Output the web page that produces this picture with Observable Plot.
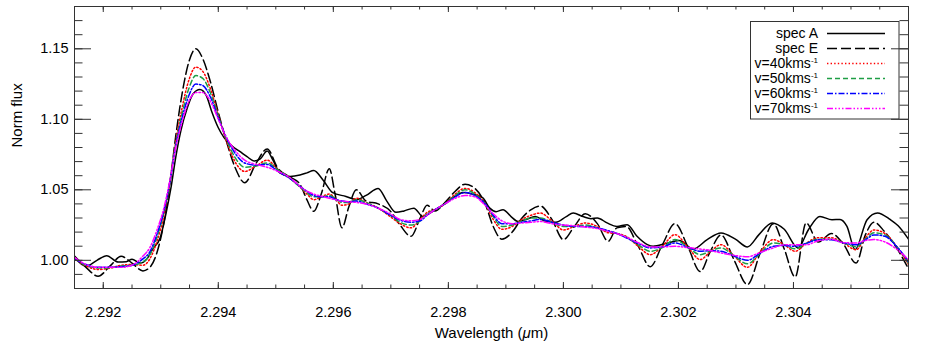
<!DOCTYPE html>
<html><head><meta charset="utf-8">
<script src="https://cdn.jsdelivr.net/npm/d3@7"></script>
<script src="https://cdn.jsdelivr.net/npm/@observablehq/plot@0.6"></script>
<style>
html,body{margin:0;padding:0;background:#fff;}
#chart svg{display:block;}
</style></head>
<body><div id="chart"></div>
<script>
// ---------------- data ----------------
// spec A (solid black)
const wlA = [2.2915, 2.29170, 2.29189, 2.29206, 2.29226, 2.29240, 2.29250, 2.29264, 2.29276, 2.29286,
  2.29299, 2.29309, 2.29318, 2.29326, 2.29335, 2.29346, 2.29356, 2.29368, 2.29379, 2.29389,
  2.29400, 2.29410, 2.29424, 2.29438, 2.29450, 2.29462, 2.29473, 2.29485, 2.29495, 2.29507,
  2.29525, 2.29542, 2.29554, 2.29566, 2.29582, 2.29599, 2.29622, 2.29640, 2.29657, 2.29678,
  2.29693, 2.29709, 2.29723, 2.29740, 2.29756, 2.29768, 2.29786, 2.29806, 2.29826, 2.29841,
  2.29860, 2.29872, 2.29883, 2.29895, 2.29909, 2.29921, 2.29935, 2.29951, 2.29970, 2.29987,
  2.30005, 2.30017, 2.30034, 2.30048, 2.30059, 2.30076, 2.30093, 2.30111, 2.30128, 2.30146,
  2.30156, 2.30179, 2.30201, 2.30226, 2.30250, 2.30274, 2.30299, 2.30320, 2.30340, 2.30363,
  2.30384, 2.30408, 2.30426, 2.30446, 2.30467, 2.30481, 2.30493, 2.30507, 2.30528, 2.30546,
  2.30568, 2.30582, 2.30600];
const fluxA = [1.002, 0.9958, 1.000, 1.0033, 0.9988, 0.999, 1.0008, 0.998, 1.001, 1.008,
  1.016, 1.033, 1.052, 1.073, 1.092, 1.108, 1.118, 1.1212, 1.117, 1.105,
  1.094, 1.087, 1.081, 1.077, 1.0735, 1.0705, 1.072, 1.0775, 1.071, 1.062,
  1.0595, 1.0605, 1.062, 1.0637, 1.057, 1.048, 1.0453, 1.043, 1.046, 1.051,
  1.042, 1.034, 1.035, 1.037, 1.031, 1.0335, 1.038, 1.044, 1.048, 1.047,
  1.0442, 1.037, 1.0345, 1.0359, 1.031, 1.0276, 1.029, 1.031, 1.0276, 1.027,
  1.031, 1.0336, 1.031, 1.0295, 1.030, 1.0265, 1.024, 1.0253, 1.017, 1.0111,
  1.0099, 1.012, 1.014, 1.0081, 1.0147, 1.0194, 1.015, 1.0095, 1.0182, 1.0265,
  1.022, 1.0088, 1.0217, 1.031, 1.0288, 1.029, 1.024, 1.0076, 1.0288, 1.0336,
  1.029, 1.0245, 1.015];

// shared wavelength grid for spec E and the model spectra
const wlGrid = [2.2915, 2.29170, 2.29191, 2.29212, 2.29231, 2.29250, 2.29269, 2.29281, 2.29293, 2.29306,
  2.29316, 2.29326, 2.29337, 2.29349, 2.29361, 2.29373, 2.29386, 2.29400, 2.29413, 2.29429,
  2.29446, 2.29466, 2.29485, 2.29504, 2.29525, 2.29542, 2.29554, 2.29566, 2.29579, 2.29593,
  2.29603, 2.29615, 2.29627, 2.29640, 2.29657, 2.29678, 2.29699, 2.29716, 2.29735, 2.29751,
  2.29763, 2.29777, 2.29794, 2.29812, 2.29829, 2.29846, 2.29864, 2.29878, 2.29893, 2.29911,
  2.29928, 2.29944, 2.29960, 2.29980, 2.30000, 2.30019, 2.30038, 2.30059, 2.30078, 2.30093,
  2.30109, 2.30130, 2.30151, 2.30172, 2.30194, 2.30217, 2.30238, 2.30255, 2.30274, 2.30297,
  2.30320, 2.30342, 2.30365, 2.30384, 2.30403, 2.30422, 2.30443, 2.30466, 2.30486, 2.30509,
  2.30525, 2.30540, 2.30559, 2.30579, 2.30600];
const fluxE = [1.003, 0.995, 0.9887, 0.996, 1.0028, 0.998, 0.9925, 0.995, 1.005, 1.028,
  1.055, 1.088, 1.118, 1.141, 1.150, 1.143, 1.127, 1.105, 1.086, 1.066,
  1.055, 1.069, 1.079, 1.065, 1.059, 1.054, 1.043, 1.0347, 1.047, 1.065,
  1.047, 1.023, 1.038, 1.050, 1.042, 1.040, 1.035, 1.025, 1.017, 1.030,
  1.039, 1.035, 1.041, 1.049, 1.054, 1.051, 1.040, 1.024, 1.015, 1.020,
  1.030, 1.036, 1.0385, 1.029, 1.0147, 1.024, 1.033, 1.026, 1.0135, 1.023,
  1.024, 1.010, 0.9955, 1.011, 1.026, 1.009, 0.992, 1.006, 1.018, 1.000,
  0.9828, 1.005, 1.026, 1.008, 0.9882, 1.0265, 1.013, 1.019, 1.012, 0.998,
  1.018, 1.027, 1.020, 1.009, 0.994];
const fluxV40 = [1.001, 0.996, 0.9935, 0.9945, 0.9965, 0.997, 0.9965, 1.001, 1.013, 1.033,
  1.056, 1.084, 1.108, 1.128, 1.137, 1.134, 1.122, 1.103, 1.086, 1.070,
  1.063, 1.067, 1.071, 1.064, 1.058, 1.052, 1.047, 1.043, 1.045, 1.047,
  1.044, 1.039, 1.040, 1.044, 1.041, 1.037, 1.031, 1.026, 1.023, 1.029,
  1.034, 1.036, 1.040, 1.047, 1.051, 1.048, 1.040, 1.029, 1.022, 1.024,
  1.029, 1.032, 1.0335, 1.028, 1.0215, 1.024, 1.0265, 1.024, 1.0195, 1.019,
  1.017, 1.010, 1.004, 1.010, 1.0182, 1.009, 1.0005, 1.006, 1.0111, 1.003,
  0.995, 1.006, 1.0147, 1.011, 1.0064, 1.012, 1.016, 1.016, 1.0125, 1.0075,
  1.016, 1.0215, 1.019, 1.010, 0.997];
const fluxV50 = [1.001, 0.9965, 0.9945, 0.9948, 0.996, 0.9965, 0.999, 1.004, 1.016, 1.035,
  1.056, 1.082, 1.104, 1.122, 1.131, 1.129, 1.119, 1.102, 1.087, 1.073,
  1.066, 1.067, 1.069, 1.064, 1.058, 1.052, 1.048, 1.045, 1.045, 1.046,
  1.044, 1.041, 1.041, 1.043, 1.041, 1.037, 1.032, 1.027, 1.025, 1.028,
  1.033, 1.036, 1.040, 1.046, 1.050, 1.047, 1.040, 1.031, 1.024, 1.025,
  1.028, 1.030, 1.030, 1.027, 1.024, 1.024, 1.025, 1.023, 1.0205, 1.019,
  1.0165, 1.011, 1.0064, 1.009, 1.0147, 1.009, 1.004, 1.0065, 1.0088, 1.003,
  0.9975, 1.005, 1.0123, 1.011, 1.0081, 1.012, 1.015, 1.015, 1.0125, 1.0095,
  1.015, 1.0195, 1.018, 1.010, 0.998];
const fluxV60 = [1.001, 0.997, 0.995, 0.995, 0.9955, 0.9965, 1.001, 1.006, 1.018, 1.036,
  1.056, 1.081, 1.101, 1.117, 1.125, 1.124, 1.116, 1.101, 1.088, 1.076,
  1.069, 1.0675, 1.068, 1.063, 1.058, 1.0525, 1.049, 1.046, 1.045, 1.045,
  1.0435, 1.042, 1.0415, 1.042, 1.040, 1.037, 1.032, 1.0285, 1.027, 1.028,
  1.032, 1.036, 1.040, 1.045, 1.048, 1.046, 1.040, 1.032, 1.026, 1.026,
  1.027, 1.028, 1.029, 1.027, 1.025, 1.024, 1.024, 1.023, 1.021, 1.019,
  1.016, 1.012, 1.0088, 1.0095, 1.0123, 1.009, 1.0064, 1.0068, 1.0064, 1.003,
  1.000, 1.005, 1.0099, 1.0105, 1.0099, 1.012, 1.0145, 1.0145, 1.0125, 1.011,
  1.0145, 1.018, 1.017, 1.010, 0.999];
const fluxV70 = [1.002, 0.997, 0.995, 0.995, 0.995, 0.9965, 1.003, 1.009, 1.021, 1.038,
  1.057, 1.080, 1.098, 1.113, 1.119, 1.119, 1.113, 1.100, 1.088, 1.078,
  1.071, 1.068, 1.066, 1.063, 1.0585, 1.0525, 1.049, 1.047, 1.0455, 1.044,
  1.043, 1.042, 1.0415, 1.041, 1.040, 1.037, 1.033, 1.029, 1.028, 1.029,
  1.032, 1.036, 1.040, 1.044, 1.046, 1.045, 1.039, 1.033, 1.028, 1.026,
  1.0265, 1.027, 1.0275, 1.026, 1.025, 1.0245, 1.0235, 1.0225, 1.0205, 1.019,
  1.0165, 1.0125, 1.0095, 1.0095, 1.0099, 1.009, 1.008, 1.007, 1.0052, 1.0035,
  1.0025, 1.0055, 1.0088, 1.011, 1.011, 1.011, 1.0138, 1.015, 1.0125, 1.0123,
  1.014, 1.0147, 1.013, 1.008, 1.0005];

// series labels and styles
const seriesNames = ["spec A", "spec E", "v=40kms", "v=50kms", "v=60kms", "v=70kms"];
const seriesSup = ["", "", "-1", "-1", "-1", "-1"];
const seriesColors = ["#000000", "#000000", "#ff0000", "#1f9e45", "#0000ff", "#ff00ff"];
const seriesDash = [null, "10,4", "1.4,2.2", "5,3", "6,2,1.5,2", "6,2,1.5,2,1.5,2,1.5,2"];

// axes
const xMajorTicks = [2.292, 2.294, 2.296, 2.298, 2.300, 2.302, 2.304];
const yMajorTicks = [1.00, 1.05, 1.10, 1.15];
const xDomain = [2.2915, 2.306];
const yDomain = [0.98, 1.18];
const xTitle = "Wavelength (μm)";
const yTitle = "Norm flux";

// ---------------- layout ----------------
const W = 926, H = 348;
const mL = 74, mR = 18, mT = 6, mB = 60;
const plotW = W - mL - mR, plotH = H - mT - mB;

const xMinorTicks = d3.range(1, 29).map(i => +(xDomain[0] + i * 0.0005).toFixed(4));
const yMinorTicks = d3.range(1, 20).map(i => +(yDomain[0] + i * 0.01).toFixed(2));

const seriesData = [
  wlA.map((w, i) => ({wl: w, flux: fluxA[i]})),
  wlGrid.map((w, i) => ({wl: w, flux: fluxE[i]})),
  wlGrid.map((w, i) => ({wl: w, flux: fluxV40[i]})),
  wlGrid.map((w, i) => ({wl: w, flux: fluxV50[i]})),
  wlGrid.map((w, i) => ({wl: w, flux: fluxV60[i]})),
  wlGrid.map((w, i) => ({wl: w, flux: fluxV70[i]}))
];

const tickColor = "#333";
const lineMarks = seriesData.map((data, k) => Plot.line(data, {
  x: "wl", y: "flux", curve: "monotone-x",
  stroke: seriesColors[k], strokeWidth: 1.5,
  strokeDasharray: seriesDash[k] || undefined, clip: true
}));

const chart = Plot.plot({
  width: W, height: H,
  marginLeft: mL, marginRight: mR, marginTop: mT, marginBottom: mB,
  x: {domain: xDomain, label: null},
  y: {domain: yDomain, label: null},
  style: {fontFamily: "'Liberation Sans', Arial, Helvetica, sans-serif", fontSize: "14.5px", color: "#000", background: "#fff"},
  marks: [
    ...lineMarks,
    // inward ticks on all four sides
    Plot.ruleX(xMinorTicks, {x: d => d, insetTop: plotH - 3.5, stroke: tickColor}),
    Plot.ruleX(xMinorTicks, {x: d => d, insetBottom: plotH - 3.5, stroke: tickColor}),
    Plot.ruleX(xMajorTicks, {x: d => d, insetTop: plotH - 6, stroke: tickColor}),
    Plot.ruleX(xMajorTicks, {x: d => d, insetBottom: plotH - 6, stroke: tickColor}),
    Plot.ruleY(yMinorTicks, {y: d => d, insetRight: plotW - 8.5, stroke: tickColor}),
    Plot.ruleY(yMinorTicks, {y: d => d, insetLeft: plotW - 8.5, stroke: tickColor}),
    Plot.ruleY(yMajorTicks, {y: d => d, insetRight: plotW - 17, stroke: tickColor}),
    Plot.ruleY(yMajorTicks, {y: d => d, insetLeft: plotW - 17, stroke: tickColor}),
    Plot.frame({stroke: tickColor}),
    Plot.axisX(xMajorTicks, {tickSize: 0, tickPadding: 18, tickFormat: d3.format(".3f"), label: null}),
    Plot.axisY(yMajorTicks, {tickSize: 0, tickPadding: 6, tickFormat: d3.format(".2f"), label: null}),
    Plot.text([xTitle], {text: d => d, frameAnchor: "bottom", dy: 49, fontSize: 15, fill: "#000"}),
    Plot.text([yTitle], {text: d => d, frameAnchor: "left", dx: -57, rotate: -90, fontSize: 15, fill: "#000"})
  ]
});

document.getElementById("chart").appendChild(chart);

// italic mu in x title
const svg = d3.select(chart);
svg.selectAll("text").filter(function () { return this.textContent === xTitle; }).each(function () {
  const t = d3.select(this);
  const [pre, post] = xTitle.split("μ");
  t.text(null);
  t.append("tspan").text(pre);
  t.append("tspan").attr("font-style", "italic").text("μ");
  t.append("tspan").text(post);
});

// legend inside the plot frame (top right)
const fr = W - mR;
const lg = svg.append("g").attr("font-family", "'Liberation Sans', Arial, Helvetica, sans-serif");
lg.append("rect").attr("x", fr - 157.5).attr("y", mT + 15.5).attr("width", 148.5).attr("height", 97.5)
  .attr("fill", "#fff").attr("stroke", tickColor);
seriesNames.forEach((name, i) => {
  const yy = mT + 27.5 + 15 * i;
  const t = lg.append("text").attr("x", fr - 90).attr("y", yy + 4.8).attr("text-anchor", "end")
    .attr("font-size", 14).attr("fill", "#000").text(name);
  if (seriesSup[i]) t.append("tspan").attr("font-size", 8).attr("dy", -5).text(seriesSup[i]);
  lg.append("line").attr("x1", fr - 81).attr("x2", fr - 23).attr("y1", yy).attr("y2", yy)
    .attr("stroke", seriesColors[i]).attr("stroke-width", 1.5)
    .attr("stroke-dasharray", seriesDash[i]);
});
// keep frame and ticks above the legend box
svg.selectAll('[aria-label="rule"], [aria-label="frame"]').raise();
</script>
</body></html>
